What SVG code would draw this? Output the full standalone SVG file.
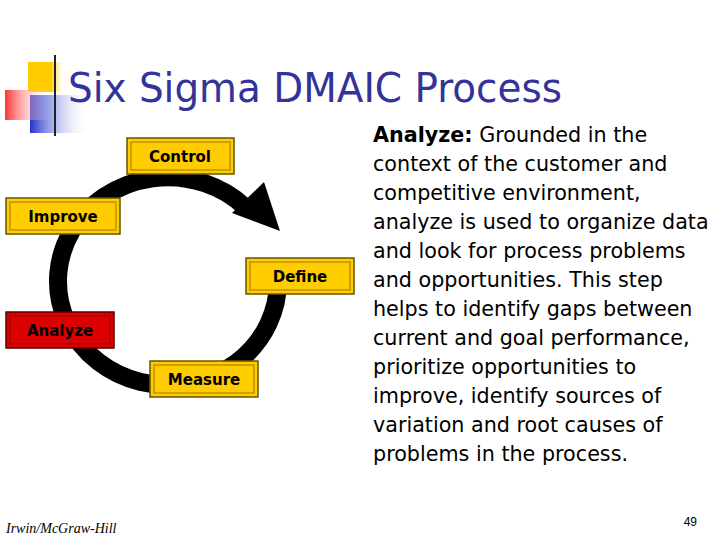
<svg xmlns="http://www.w3.org/2000/svg" width="720" height="540" viewBox="0 0 720 540">
<defs>
<linearGradient id="ln" x1="0" x2="1"><stop offset="0" stop-color="#222"/><stop offset="1" stop-color="#ddd"/></linearGradient>
<linearGradient id="rd" x1="0" x2="1"><stop offset="0" stop-color="#f33"/><stop offset="1" stop-color="#fff" stop-opacity="0"/></linearGradient>
<linearGradient id="bl" x1="0" x2="1"><stop offset="0" stop-color="#2233cc"/><stop offset="1" stop-color="#fff" stop-opacity="0"/></linearGradient>
<linearGradient id="yl" x1="0" x2="1"><stop offset="0" stop-color="#ffcc00"/><stop offset="0.6" stop-color="#ffcc00"/><stop offset="1" stop-color="#fff" stop-opacity="0"/></linearGradient>
<style>
.b{fill:#ffcc00;stroke:#665500;stroke-width:1.5}
.bi{fill:none;stroke:#997700;stroke-width:1}
.r{fill:#dd0000;stroke:#550000;stroke-width:1.5}
.t{font-family:"DejaVu Sans",sans-serif;font-weight:bold;font-size:15px;text-anchor:middle;fill:#000}
.p{font-family:"DejaVu Sans",sans-serif;font-size:20.7px;fill:#000}
</style>
</defs>
<rect width="720" height="540" fill="#fff"/>
<rect x="28" y="62" width="38" height="30" fill="url(#yl)"/>
<rect x="30" y="95" width="60" height="38" fill="url(#bl)"/>
<rect x="5" y="90" width="45" height="30" fill="url(#rd)"/>
<line x1="55" y1="55" x2="55" y2="136" stroke="#222" stroke-width="2"/>
<line x1="18" y1="115" x2="720" y2="115" stroke="url(#ln)" stroke-width="2.5"/>
<text x="68" y="102" font-family="DejaVu Sans,sans-serif" font-size="41" fill="#333399" textLength="494" lengthAdjust="spacingAndGlyphs">Six Sigma DMAIC Process</text>
<g id="connectors">
<path d="M 278 280 A 110 104 0 1 1 245 207" fill="none" stroke="#000" stroke-width="18"/>
<polygon points="280,231 264,182 232,213" fill="#000"/>
</g>
<g id="control"><rect class="b" x="127" y="138" width="107" height="36"/><rect class="bi" x="131" y="142" width="99" height="28"/><text class="t" x="180" y="162">Control</text></g>
<g id="improve"><rect class="b" x="6" y="198" width="114" height="36"/><rect class="bi" x="10" y="202" width="106" height="28"/><text class="t" x="63" y="222">Improve</text></g>
<g id="define"><rect class="b" x="246" y="258" width="108" height="36"/><rect class="bi" x="250" y="262" width="100" height="28"/><text class="t" x="300" y="282">Define</text></g>
<g id="analyze"><rect class="r" x="6" y="312" width="108" height="36"/><rect fill="none" stroke="#990000" x="10" y="316" width="100" height="28"/><text class="t" x="60" y="336">Analyze</text></g>
<g id="measure"><rect class="b" x="150" y="361" width="108" height="36"/><rect class="bi" x="154" y="365" width="100" height="28"/><text class="t" x="204" y="385">Measure</text></g>
<g class="p">
<text x="373" y="142"><tspan font-weight="bold">Analyze:</tspan>  Grounded in the</text>
<text x="373" y="171">context of the customer and</text>
<text x="373" y="200">competitive environment,</text>
<text x="373" y="229">analyze is used to organize data</text>
<text x="373" y="258">and look for process problems</text>
<text x="373" y="287">and opportunities.  This step</text>
<text x="373" y="316">helps to identify gaps between</text>
<text x="373" y="345">current and goal performance,</text>
<text x="373" y="374">prioritize opportunities to</text>
<text x="373" y="403">improve, identify sources of</text>
<text x="373" y="432">variation and root causes of</text>
<text x="373" y="461">problems in the process.</text>
</g>
<text x="6" y="533" font-family="Liberation Serif,serif" font-style="italic" font-size="14">Irwin/McGraw-Hill</text>
<text x="697" y="526" font-family="Liberation Sans,sans-serif" font-size="12" text-anchor="end">49</text>
</svg>
